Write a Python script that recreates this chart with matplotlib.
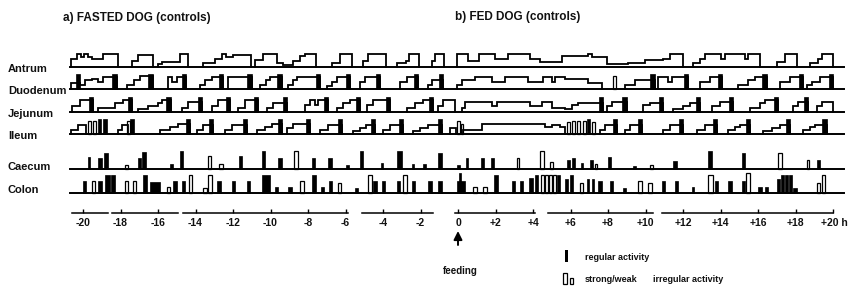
"""Motility pattern of the fasted and fed dog (controls), redrawn schematically.

Time axis in hours relative to feeding; each row is one gut segment.
"""

import matplotlib

matplotlib.use("Agg")
import matplotlib.pyplot as plt

plt.rcParams["font.family"] = ["Liberation Sans", "DejaVu Sans"]

# ---------------------------------------------------------------------------
# data (hours relative to feeding; levels as fraction of the row height)
# step profiles: list of cycles, each a list of (time, level) with level 0 at the end
# ---------------------------------------------------------------------------
antrum_cycles = [
    [(-20.64, 0.6), (-20.32, 0.9), (-20.11, 0.7), (-19.95, 0.9), (-19.73, 0.7), (-19.52, 0.6), (-18.93, 0.9), (-18.13, 0)],
    [(-17.39, 0.4), (-17.07, 0.85), (-16.27, 0)],
    [(-16.00, 0.2), (-15.79, 0.35), (-14.83, 0.9), (-14.40, 0)],
    [(-13.60, 0.3), (-12.96, 0.6), (-12.59, 0.9), (-12.37, 0.75), (-12.00, 0.85), (-11.04, 0)],
    [(-10.83, 0.5), (-10.40, 0.9), (-9.65, 0.3), (-9.33, 0.15), (-8.80, 0.4), (-8.43, 0.8), (-8.16, 0.9), (-7.57, 0)],
    [(-6.72, 0.3), (-6.29, 0.9), (-5.65, 0)],
    [(-5.07, 0.4), (-4.80, 0.9), (-3.84, 0)],
    [(-3.25, 0.3), (-2.77, 0.45), (-2.61, 0.9), (-2.08, 0)],
    [(-1.39, 0.4), (-1.23, 0.9), (-0.75, 0)],
    [(-0.05, 0.9), (0.53, 0.4), (1.12, 0.9), (1.97, 0.55), (2.67, 0.9), (3.84, 0.6), (4.37, 0.35), (5.55, 0.8),
     (6.93, 0.95), (7.15, 0.7), (7.95, 0.25), (9.07, 0.3), (9.97, 0.5), (10.93, 0.55), (11.31, 0.9), (12.0, 0)],
    [(12.53, 0.3), (12.91, 0.6), (13.17, 0.9), (14.03, 0.6), (14.24, 0.9), (15.31, 0.6), (15.47, 0.9), (16.11, 0)],
    [(17.01, 0.35), (17.44, 0.9), (18.08, 0)],
    [(18.77, 0.3), (19.20, 0.6), (19.41, 0.9), (20.0, 0)],
]

duodenum_cycles = [
    [(-20.64, 0.4), (-20.16, 0.25), (-19.89, 0.6), (-19.52, 0.7), (-19.20, 0.5), (-18.93, 0.8), (-18.19, 0)],
    [(-17.65, 0.3), (-17.28, 0.6), (-16.96, 0.85), (-16.27, 0)],
    [(-15.47, 0.8), (-15.25, 0.5), (-14.99, 0.8), (-14.51, 0)],
    [(-13.76, 0.3), (-13.49, 0.6), (-13.12, 0.8), (-12.53, 0)],
    [(-12.27, 0.8), (-10.99, 0)],
    [(-10.56, 0.3), (-10.24, 0.6), (-10.03, 0.8), (-9.39, 0)],
    [(-9.07, 0.3), (-8.80, 0.6), (-8.59, 0.8), (-7.36, 0)],
    [(-6.99, 0.2), (-6.72, 0.5), (-6.45, 0.8), (-5.76, 0)],
    [(-5.23, 0.5), (-4.96, 0.8), (-4.16, 0)],
    [(-3.09, 0.5), (-2.72, 0.8), (-2.13, 0)],
    [(-1.60, 0.3), (-1.39, 0.6), (-0.80, 0)],
    [(-0.05, 0.3), (0.21, 0.6), (0.91, 0.8), (1.81, 0.5), (2.51, 0.8), (3.73, 0.5), (4.53, 0.8), (5.01, 0.5),
     (5.17, 0.8), (5.71, 0.7), (6.93, 0.4), (7.68, 0)],
    [(8.91, 0.3), (9.44, 0.6), (10.51, 0)],
    [(10.67, 0.8), (11.20, 0.5), (11.41, 0.8), (12.27, 0)],
    [(12.91, 0.5), (13.44, 0.8), (14.08, 0)],
    [(14.93, 0.3), (15.47, 0.6), (15.84, 0.8), (16.48, 0)],
    [(17.17, 0.5), (17.71, 0.8), (18.40, 0)],
    [(18.61, 0.3), (18.88, 0.5), (19.31, 0.8), (20.0, 0)],
]
duodenum_bursts = [(-20.37, -20.16), (-18.45, -18.19), (-16.53, -16.27), (-14.72, -14.51), (-12.75, -12.53),
                   (-11.25, -10.99), (-9.65, -9.39), (-7.57, -7.36), (-5.97, -5.76), (-4.37, -4.16),
                   (-2.35, -2.13), (-1.01, -0.80), (10.24, 10.51), (12.05, 12.27), (13.87, 14.08),
                   (16.21, 16.48), (18.19, 18.40), (19.79, 20.0)]
duodenum_open = [(8.27, 8.43, 0.9)]

jejunum_cycles = [
    [(-20.59, 0.4), (-20.16, 0.8), (-19.47, 0)],
    [(-19.20, 0.3), (-18.29, 0.6), (-17.87, 0.8), (-17.39, 0)],
    [(-17.07, 0.2), (-16.53, 0.4), (-16.00, 0.6), (-15.79, 0.8), (-15.31, 0)],
    [(-14.72, 0.3), (-14.40, 0.7), (-13.65, 0)],
    [(-13.12, 0.4), (-12.80, 0.8), (-12.16, 0)],
    [(-11.73, 0.3), (-11.36, 0.8), (-10.67, 0)],
    [(-10.19, 0.3), (-9.87, 0.6), (-9.12, 0)],
    [(-8.16, 0.5), (-7.89, 0.8), (-7.63, 0.5), (-7.47, 0.8), (-6.93, 0)],
    [(-6.45, 0.3), (-6.13, 0.6), (-5.76, 0.8), (-5.23, 0)],
    [(-4.85, 0.5), (-4.53, 0.8), (-3.63, 0)],
    [(-2.72, 0.3), (-2.29, 0.6), (-1.87, 0.8), (-1.33, 0)],
    [(-1.07, 0.4), (-0.80, 0.8), (-0.16, 0)],
    [(0.21, 0.3), (0.37, 0.7), (1.81, 0.4), (2.08, 0.7), (3.84, 0.4), (4.48, 0.7), (5.01, 0.3), (5.71, 0.2),
     (6.08, 0.5), (6.40, 0.6), (7.73, 0)],
    [(7.95, 0.4), (8.21, 0.7), (9.01, 0)],
    [(9.87, 0.5), (10.24, 0.6), (10.93, 0)],
    [(11.47, 0.2), (12.0, 0.4), (12.37, 0.6), (12.91, 0)],
    [(13.55, 0.4), (13.97, 0.7), (14.67, 0)],
    [(15.57, 0.3), (16.11, 0.6), (16.37, 0.8), (17.07, 0)],
    [(17.87, 0.4), (18.13, 0.7), (18.67, 0)],
    [(19.15, 0.4), (19.41, 0.7), (20.0, 0)],
]
jejunum_bursts = [(-19.68, -19.47), (-17.60, -17.39), (-15.57, -15.31), (-13.87, -13.65), (-12.37, -12.16),
                  (-10.88, -10.67), (-9.33, -9.12), (-7.15, -6.93), (-5.44, -5.23), (-3.84, -3.63),
                  (-1.55, -1.33), (7.52, 7.73), (8.75, 9.01), (10.72, 10.93), (12.70, 12.91),
                  (14.45, 14.67), (16.85, 17.07), (18.45, 18.67)]

ileum_cycles = [
    [(-20.64, 0.3), (-20.27, 0.6), (-19.84, 0)],
    [(-18.13, 0.3), (-17.92, 0.6), (-17.60, 0)],
    [(-15.89, 0.3), (-15.36, 0.5), (-14.93, 0.7), (-14.29, 0)],
    [(-13.92, 0.3), (-13.60, 0.6), (-13.07, 0)],
    [(-12.43, 0.3), (-12.05, 0.6), (-11.25, 0)],
    [(-10.72, 0.3), (-10.29, 0.5), (-9.92, 0.7), (-9.39, 0)],
    [(-9.12, 0.4), (-8.80, 0.7), (-7.89, 0)],
    [(-7.36, 0.3), (-6.93, 0.6), (-6.19, 0)],
    [(-5.60, 0.2), (-5.23, 0.4), (-4.91, 0.6), (-4.43, 0)],
    [(-4.00, 0.3), (-3.63, 0.6), (-2.93, 0)],
    [(-2.40, 0.2), (-2.03, 0.4), (-1.60, 0.6), (-0.85, 0)],
    [(-0.43, 0.4), (-0.11, 0)],
    [(0.27, 0.3), (1.28, 0.7), (4.64, 0.45), (5.01, 0.6), (5.44, 0.45), (5.71, 0)],
    [(7.57, 0.3), (7.84, 0.6), (8.48, 0)],
    [(8.91, 0.3), (9.17, 0.6), (9.81, 0)],
    [(10.93, 0.3), (11.31, 0.6), (12.0, 0)],
    [(12.75, 0.3), (13.17, 0.6), (13.81, 0)],
    [(14.40, 0.3), (14.77, 0.5), (15.04, 0.6), (15.57, 0)],
    [(16.27, 0.2), (16.75, 0.4), (17.17, 0.6), (17.71, 0)],
    [(18.40, 0.3), (18.77, 0.5), (19.04, 0.6), (19.68, 0)],
]
ileum_bursts = [(-19.20, -19.04), (-18.93, -18.72), (-17.49, -17.28), (-14.51, -14.29), (-13.28, -13.07),
                (-11.47, -11.25), (-9.60, -9.39), (-8.11, -7.89), (-6.40, -6.19), (-4.64, -4.43),
                (-3.15, -2.93), (-1.07, -0.85), (6.88, 7.04), (8.27, 8.48), (9.60, 9.81), (11.79, 12.0),
                (13.60, 13.81), (15.36, 15.57), (17.49, 17.71), (19.41, 19.68)]
ileum_open = [(-19.73, -19.57, 0.85), (-19.47, -19.31, 0.9), (-17.65, -17.49, 0.9), (-0.05, 0.11, 0.9),
              (0.16, 0.27, 0.7), (5.81, 5.97, 0.8), (6.08, 6.24, 0.9), (6.35, 6.51, 0.9), (6.67, 6.83, 0.9),
              (7.15, 7.31, 0.8)]

# caecum / colon: (start h, end h, level, kind)  kind "r" = regular, "i" = irregular
caecum_bars = [
    (-19.73, -19.63, 0.65, "r"), (-19.20, -18.99, 0.6, "r"), (-18.88, -18.67, 0.9, "r"), (-17.76, -17.60, 0.25, "i"),
    (-17.07, -16.91, 0.6, "r"), (-16.85, -16.64, 0.95, "r"), (-15.36, -15.20, 0.3, "r"), (-14.83, -14.67, 1.0, "r"),
    (-13.33, -13.17, 0.7, "i"), (-12.75, -12.53, 0.3, "i"), (-11.68, -11.52, 0.7, "r"), (-10.45, -10.29, 1.0, "r"),
    (-9.60, -9.39, 0.6, "r"), (-8.75, -8.53, 1.0, "i"), (-7.79, -7.63, 0.6, "r"), (-6.93, -6.72, 0.6, "r"),
    (-5.97, -5.81, 0.25, "r"), (-5.23, -5.07, 1.0, "r"), (-4.11, -4.00, 0.35, "r"), (-3.25, -2.99, 1.0, "r"),
    (-2.45, -2.35, 0.3, "r"), (-1.87, -1.71, 0.3, "r"), (-1.07, -0.85, 0.9, "r"), (-0.05, 0.11, 0.2, "r"),
    (0.43, 0.53, 0.6, "r"), (1.23, 1.39, 0.6, "r"), (1.76, 1.92, 0.6, "r"), (3.15, 3.25, 0.6, "i"),
    (4.37, 4.59, 1.0, "i"), (4.91, 5.07, 0.4, "i"), (5.81, 5.97, 0.5, "r"), (6.08, 6.24, 0.6, "r"),
    (6.56, 6.67, 0.35, "r"), (7.04, 7.20, 0.5, "r"), (7.31, 7.41, 0.3, "i"), (8.00, 8.16, 0.65, "r"),
    (9.33, 9.49, 0.15, "r"), (10.24, 10.40, 0.25, "i"), (11.47, 11.68, 0.45, "r"), (13.33, 13.55, 1.0, "r"),
    (15.15, 15.31, 0.9, "r"), (17.07, 17.28, 0.9, "i"), (18.61, 18.72, 0.5, "i"), (19.15, 19.31, 0.5, "r"),
]

colon_bars = [
    (-20.00, -19.84, 0.6, "r"), (-19.52, -19.36, 0.6, "i"), (-19.20, -18.99, 0.6, "r"), (-18.83, -18.56, 0.9, "r"),
    (-18.51, -18.29, 0.9, "r"), (-17.76, -17.60, 0.6, "i"), (-17.33, -17.17, 0.6, "i"), (-16.80, -16.59, 0.9, "r"),
    (-16.43, -15.89, 0.55, "r"), (-15.52, -15.36, 0.3, "i"), (-15.20, -14.99, 0.6, "r"), (-14.72, -14.56, 0.6, "r"),
    (-14.35, -14.19, 0.9, "i"), (-13.60, -13.39, 0.25, "i"), (-13.33, -13.12, 0.9, "i"), (-12.85, -12.64, 0.6, "r"),
    (-12.05, -11.89, 0.6, "r"), (-11.25, -11.09, 0.6, "r"), (-10.45, -10.03, 0.9, "r"), (-9.76, -9.60, 0.3, "r"),
    (-9.07, -8.85, 0.3, "r"), (-8.43, -8.21, 0.6, "i"), (-7.79, -7.57, 0.9, "r"), (-7.31, -7.15, 0.3, "r"),
    (-6.88, -6.72, 0.6, "r"), (-6.40, -6.24, 0.5, "i"), (-5.49, -5.33, 0.25, "r"), (-4.80, -4.59, 0.9, "i"),
    (-4.53, -4.32, 0.6, "r"), (-4.05, -3.89, 0.6, "r"), (-3.25, -3.09, 0.6, "r"), (-2.93, -2.72, 0.9, "i"),
    (-2.45, -2.29, 0.6, "r"), (-1.60, -1.39, 0.6, "r"), (-1.07, -0.85, 0.6, "r"), (-0.05, 0.37, 0.6, "r"),
    (0.05, 0.16, 1.0, "r"), (0.80, 1.01, 0.3, "i"), (1.33, 1.55, 0.3, "i"), (1.92, 2.13, 0.9, "r"),
    (2.88, 3.04, 0.6, "r"), (3.31, 3.47, 0.6, "r"), (3.79, 4.00, 0.75, "r"), (4.11, 4.27, 0.9, "r"),
    (4.43, 4.59, 0.9, "i"), (4.64, 4.80, 0.9, "i"), (4.85, 5.01, 0.9, "i"), (5.07, 5.23, 0.9, "i"),
    (5.28, 5.44, 0.9, "r"), (5.71, 5.87, 0.7, "r"), (5.97, 6.13, 0.9, "r"), (6.51, 6.67, 0.5, "i"),
    (6.88, 6.99, 0.7, "r"), (7.15, 7.25, 0.7, "r"), (7.47, 7.68, 0.6, "r"), (8.11, 8.27, 0.6, "r"),
    (8.80, 8.96, 0.25, "r"), (9.60, 9.81, 0.6, "i"), (10.13, 10.35, 0.5, "i"), (10.88, 11.04, 0.6, "r"),
    (11.57, 11.73, 0.6, "r"), (12.48, 12.59, 0.3, "r"), (13.33, 13.60, 0.9, "i"), (13.71, 13.87, 0.6, "r"),
    (14.40, 14.61, 0.6, "r"), (15.15, 15.31, 0.6, "r"), (15.36, 15.57, 1.0, "i"), (16.00, 16.21, 0.3, "r"),
    (16.37, 16.53, 0.3, "r"), (17.01, 17.17, 0.7, "r"), (17.23, 17.39, 0.9, "r"), (17.44, 17.60, 0.9, "r"),
    (17.65, 17.81, 0.9, "r"), (17.87, 18.08, 0.25, "r"), (19.15, 19.31, 0.5, "i"), (19.41, 19.57, 0.9, "i"),
]

# time axis pieces (hours) and tick labels
axis_segments = [(-20.59, -18.67), (-18.45, -14.93), (-14.67, -5.87), (-5.12, -1.33),
                 (-0.16, 4.11), (4.80, 10.40), (10.88, 20.0)]
tick_hours = list(range(-20, 21, 2))
tick_labels = [f"{h}" if h <= 0 else f"+{h}" for h in tick_hours]
tick_labels[-1] = "+20 h"

row_names = ["Antrum", "Duodenum", "Jejunum", "Ileum", "Caecum", "Colon"]

# ---------------------------------------------------------------------------
# layout (pixel rows from the top of an 852 x 288 canvas)
# ---------------------------------------------------------------------------
PX_PER_H = 18.75
X0 = 458
row_base = {"Antrum": 67, "Duodenum": 89, "Jejunum": 112, "Ileum": 134, "Caecum": 169, "Colon": 193}
row_height = {"Antrum": 14, "Duodenum": 15, "Jejunum": 15, "Ileum": 15, "Caecum": 18, "Colon": 20}
label_y = {"Antrum": 69, "Duodenum": 91, "Jejunum": 114, "Ileum": 136, "Caecum": 167, "Colon": 190}
AXIS_Y = 213
T_START, T_END = -20.7, 20.6
LW = 1.3
TXT = dict(fontweight="bold", color="#111111")


def draw_steps(ax, cycles, base, height):
    for cyc in cycles:
        t = [cyc[0][0]] + [p[0] for p in cyc]
        y = [base] + [base - p[1] * height for p in cyc]
        ax.plot(t, y, drawstyle="steps-post", color="black", lw=LW, solid_joinstyle="miter")


def draw_bars(ax, bars, base, height):
    for t0, t1, lev, kind in bars:
        if kind == "r":
            ax.bar(t0, -lev * height, width=t1 - t0, bottom=base, align="edge",
                   color="black", edgecolor="black", linewidth=0.5)
        else:
            ax.bar(t0, -lev * height, width=t1 - t0, bottom=base, align="edge",
                   facecolor="white", edgecolor="black", linewidth=0.9)


fig = plt.figure(figsize=(8.52, 2.88), dpi=100)
ax = fig.add_axes([0, 0, 1, 1])
ax.set_xlim(-X0 / PX_PER_H, (852 - X0) / PX_PER_H)
ax.set_ylim(288, 0)
ax.axis("off")

# baselines
for name in row_names:
    ax.plot([T_START, T_END], [row_base[name]] * 2, color="black", lw=1.4)

draw_steps(ax, antrum_cycles, row_base["Antrum"], row_height["Antrum"])
step_rows = [("Duodenum", duodenum_cycles, duodenum_bursts, duodenum_open),
             ("Jejunum", jejunum_cycles, jejunum_bursts, []),
             ("Ileum", ileum_cycles, ileum_bursts, ileum_open)]
for name, cycles, bursts, opens in step_rows:
    b, h = row_base[name], row_height[name]
    draw_steps(ax, cycles, b, h)
    draw_bars(ax, [(t0, t1, 1.0, "r") for t0, t1 in bursts], b, h)
    draw_bars(ax, [(t0, t1, lev, "i") for t0, t1, lev in opens], b, h)

draw_bars(ax, caecum_bars, row_base["Caecum"], row_height["Caecum"])
draw_bars(ax, colon_bars, row_base["Colon"], row_height["Colon"])

for name in row_names:
    ax.text(-24.0, label_y[name], name, fontsize=8, ha="left", va="center", **TXT)

# time axis
for s0, s1 in axis_segments:
    ax.plot([s0, s1], [AXIS_Y, AXIS_Y], color="black", lw=1.1)
ax.vlines(tick_hours, AXIS_Y - 4, AXIS_Y, color="black", lw=1.0)
for h, lab in zip(tick_hours, tick_labels):
    if lab.endswith("h"):
        ax.text(h - 0.65, AXIS_Y + 10, lab, fontsize=7.5, ha="left", va="center", **TXT)
    else:
        ax.text(h, AXIS_Y + 10, lab, fontsize=7.5, ha="center", va="center", **TXT)

# titles
ax.text(-21.07, 18, "a) FASTED DOG (controls)", fontsize=8.5, ha="left", va="center", **TXT)
ax.text(-0.16, 17, "b) FED DOG (controls)", fontsize=8.5, ha="left", va="center", **TXT)

# feeding arrow
ax.annotate("", xy=(0, 231), xytext=(0, 245),
            arrowprops=dict(arrowstyle="-|>,head_width=0.25,head_length=0.5", color="black",
                            lw=1.4, shrinkA=0, shrinkB=0))
ax.text(0.1, 271, "feeding", fontsize=7, ha="center", va="center", **TXT)

# legend
ax.bar(5.71, -12, width=0.18, bottom=262, align="edge", color="black")
ax.bar(5.60, -11, width=0.2, bottom=284, align="edge", facecolor="white", edgecolor="black", linewidth=0.9)
ax.bar(5.95, -6, width=0.18, bottom=284, align="edge", facecolor="white", edgecolor="black", linewidth=0.9)
ax.text(6.77, 257, "regular activity", fontsize=6.5, ha="left", va="center", **TXT)
ax.text(6.77, 279, "strong/weak", fontsize=6.5, ha="left", va="center", **TXT)
ax.text(10.4, 279, "irregular activity", fontsize=6.5, ha="left", va="center", **TXT)

fig.savefig("out.png", dpi=100)
plt.close(fig)
